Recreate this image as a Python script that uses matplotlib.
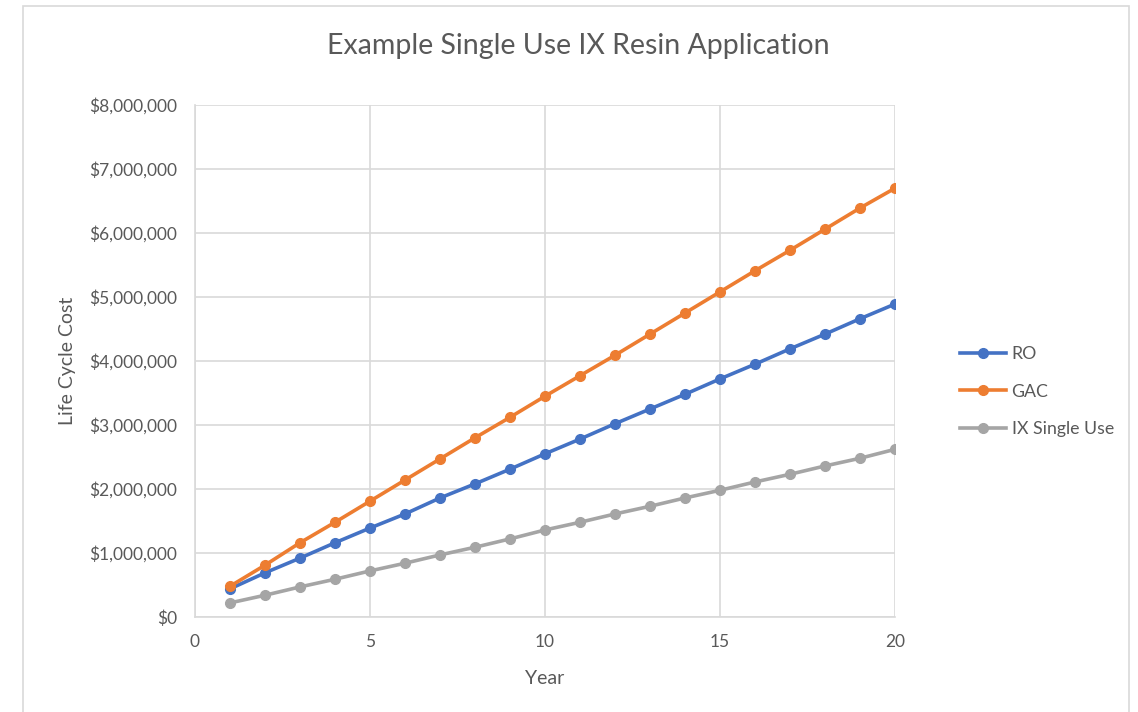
import matplotlib
matplotlib.use("Agg")
import matplotlib.pyplot as plt
from matplotlib.patches import Rectangle
from matplotlib.ticker import FuncFormatter, MultipleLocator

plt.rcParams['font.family'] = ['Lato', 'DejaVu Sans']

years = list(range(1, 21))
ro = [0.44, 0.69, 0.92, 1.16, 1.39, 1.61, 1.86, 2.08, 2.31, 2.55,
      2.78, 3.02, 3.25, 3.48, 3.72, 3.95, 4.19, 4.42, 4.66, 4.89]
gac = [0.48, 0.81, 1.16, 1.48, 1.81, 2.14, 2.47, 2.80, 3.12, 3.45,
       3.77, 4.09, 4.42, 4.75, 5.08, 5.41, 5.73, 6.06, 6.39, 6.70]
ix = [0.22, 0.34, 0.47, 0.59, 0.72, 0.84, 0.97, 1.09, 1.22, 1.36,
      1.48, 1.61, 1.73, 1.86, 1.98, 2.11, 2.23, 2.36, 2.48, 2.62]
# values in $ millions
ro = [v * 1e6 for v in ro]
gac = [v * 1e6 for v in gac]
ix = [v * 1e6 for v in ix]

txt = '#595959'
grid = '#D9D9D9'

fig = plt.figure(figsize=(11.38, 7.12), dpi=100)
ax = fig.add_axes([195/1138, 95/712, 700/1138, 512/712])

# chart area border
fig.patches.append(Rectangle((23/1138, -0.05), (1129-23)/1138, (706/712) + 0.05,
                             transform=fig.transFigure, fill=False,
                             edgecolor='#D9D9D9', lw=1.2, clip_on=False))

ax.plot(years, ro, color='#4472C4', lw=2.6, marker='o', ms=7, label='RO')
ax.plot(years, gac, color='#ED7D31', lw=2.6, marker='o', ms=7, label='GAC')
ax.plot(years, ix, color='#A5A5A5', lw=2.6, marker='o', ms=7, label='IX Single Use')

ax.set_xlim(0, 20)
ax.set_ylim(0, 8e6)
ax.xaxis.set_major_locator(MultipleLocator(5))
ax.yaxis.set_major_locator(MultipleLocator(1e6))
ax.yaxis.set_major_formatter(FuncFormatter(lambda v, p: '${:,.0f}'.format(v)))
ax.grid(True, color=grid, lw=1.2)
ax.set_axisbelow(True)
for s in ['top', 'right']:
    ax.spines[s].set_visible(False)
for s in ['left', 'bottom']:
    ax.spines[s].set_color(grid)
    ax.spines[s].set_linewidth(1.2)
ax.tick_params(length=0, colors=txt, labelsize=12.5)
ax.tick_params(axis='x', pad=12)
ax.tick_params(axis='y', pad=13)

ax.set_xlabel('Year', color=txt, fontsize=14, labelpad=15)
ax.set_ylabel('Life Cycle Cost', color=txt, fontsize=14, labelpad=9)
fig.text(578/1138, 1 - 46/712, 'Example Single Use IX Resin Application',
         ha='center', va='center', color=txt, fontsize=20.5)

leg = ax.legend(loc='center left', bbox_to_anchor=(1.07, 0.44), frameon=False,
                fontsize=12.8, labelspacing=1.2, handlelength=2.6, handletextpad=0.3)
for t in leg.get_texts():
    t.set_color(txt)

fig.savefig('out.png', dpi=100)
